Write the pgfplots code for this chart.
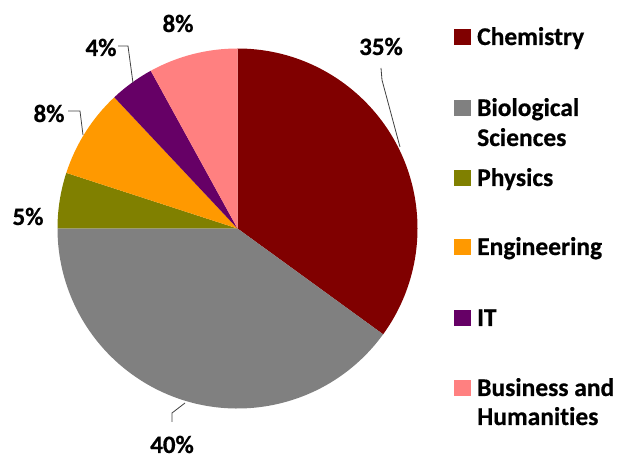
\documentclass[border=0pt]{standalone}
\usepackage{pgfplots}
\pgfplotsset{compat=1.18}
\usepackage{fontspec}
\setmainfont{Carlito}[Ligatures={NoCommon}, BoldFeatures={FakeBold=0.6}]
\definecolor{chem}{HTML}{800000}
\definecolor{bio}{HTML}{808080}
\definecolor{phys}{HTML}{808000}
\definecolor{eng}{HTML}{FF9900}
\definecolor{itc}{HTML}{660066}
\definecolor{bus}{HTML}{FF8080}
% slice from cumulative percent #1 to #2
\newcommand\slice[3]{\fill[#3] (axis cs:237.5,229.5) -- ++({90-3.6*#1}:180bp) arc[start angle={90-3.6*#1}, end angle={90-3.6*#2}, radius=180bp] -- cycle;}
\newcommand\lab[3]{\node[anchor=base, font=\fontsize{25bp}{29bp}\selectfont\bfseries, inner sep=0pt] at (axis cs:#1,#2) {#3};}
\newcommand\leg[3]{\node[anchor=base west, font=\fontsize{25.5bp}{29bp}\selectfont\bfseries, inner sep=0pt] at (axis cs:#1,#2) {#3};}
\begin{document}
\begin{tikzpicture}
\useasboundingbox (0,0) rectangle (618bp,458bp);
\begin{axis}[
  at={(0,0)}, anchor=origin,
  x=1bp, y=1bp,
  xmin=0, xmax=618, ymin=0, ymax=458,
  hide axis, clip=false, disabledatascaling,
]
% Pie slices: Chemistry 35, Biological Sciences 40, Physics 5, Engineering 8, IT 4, Business and Humanities 8
\slice{0}{35}{chem}
\slice{35}{75}{bio}
\slice{75}{80}{phys}
\slice{80}{88}{eng}
\slice{88}{92}{itc}
\slice{92}{100}{bus}
% leader lines
\draw[black!75, line width=0.8bp] (axis cs:381,390) -- (axis cs:382,378) -- (axis cs:400,311);
\draw[black!75, line width=0.8bp] (axis cs:68,347) -- (axis cs:80,347) -- (axis cs:83,323);
\draw[black!75, line width=0.8bp] (axis cs:118,412) -- (axis cs:128,412) -- (axis cs:133,375);
\draw[black!75, line width=0.8bp] (axis cs:172,36) -- (axis cs:172,45) -- (axis cs:185,55);
% data labels
\lab{381}{403}{35\%}
\lab{178}{426}{8\%}
\lab{101}{402}{4\%}
\lab{49}{336}{8\%}
\lab{28}{233}{5\%}
\lab{172}{5}{40\%}
% legend
\fill[chem] (axis cs:454,413) rectangle (axis cs:471,429);
\leg{477}{413}{Chemistry}
\fill[bio] (axis cs:454,342) rectangle (axis cs:471,358);
\leg{477}{342}{Biological}
\leg{477}{312}{Sciences}
\fill[phys] (axis cs:454,272) rectangle (axis cs:471,288);
\leg{477}{272}{Physics}
\fill[eng] (axis cs:454,203) rectangle (axis cs:471,219);
\leg{477}{203}{Engineering}
\fill[itc] (axis cs:454,132) rectangle (axis cs:471,148);
\leg{477}{132}{IT}
\fill[bus] (axis cs:454,62) rectangle (axis cs:471,78);
\leg{477}{62}{Business and}
\leg{477}{33}{Humanities}
\end{axis}
\end{tikzpicture}
\end{document}
